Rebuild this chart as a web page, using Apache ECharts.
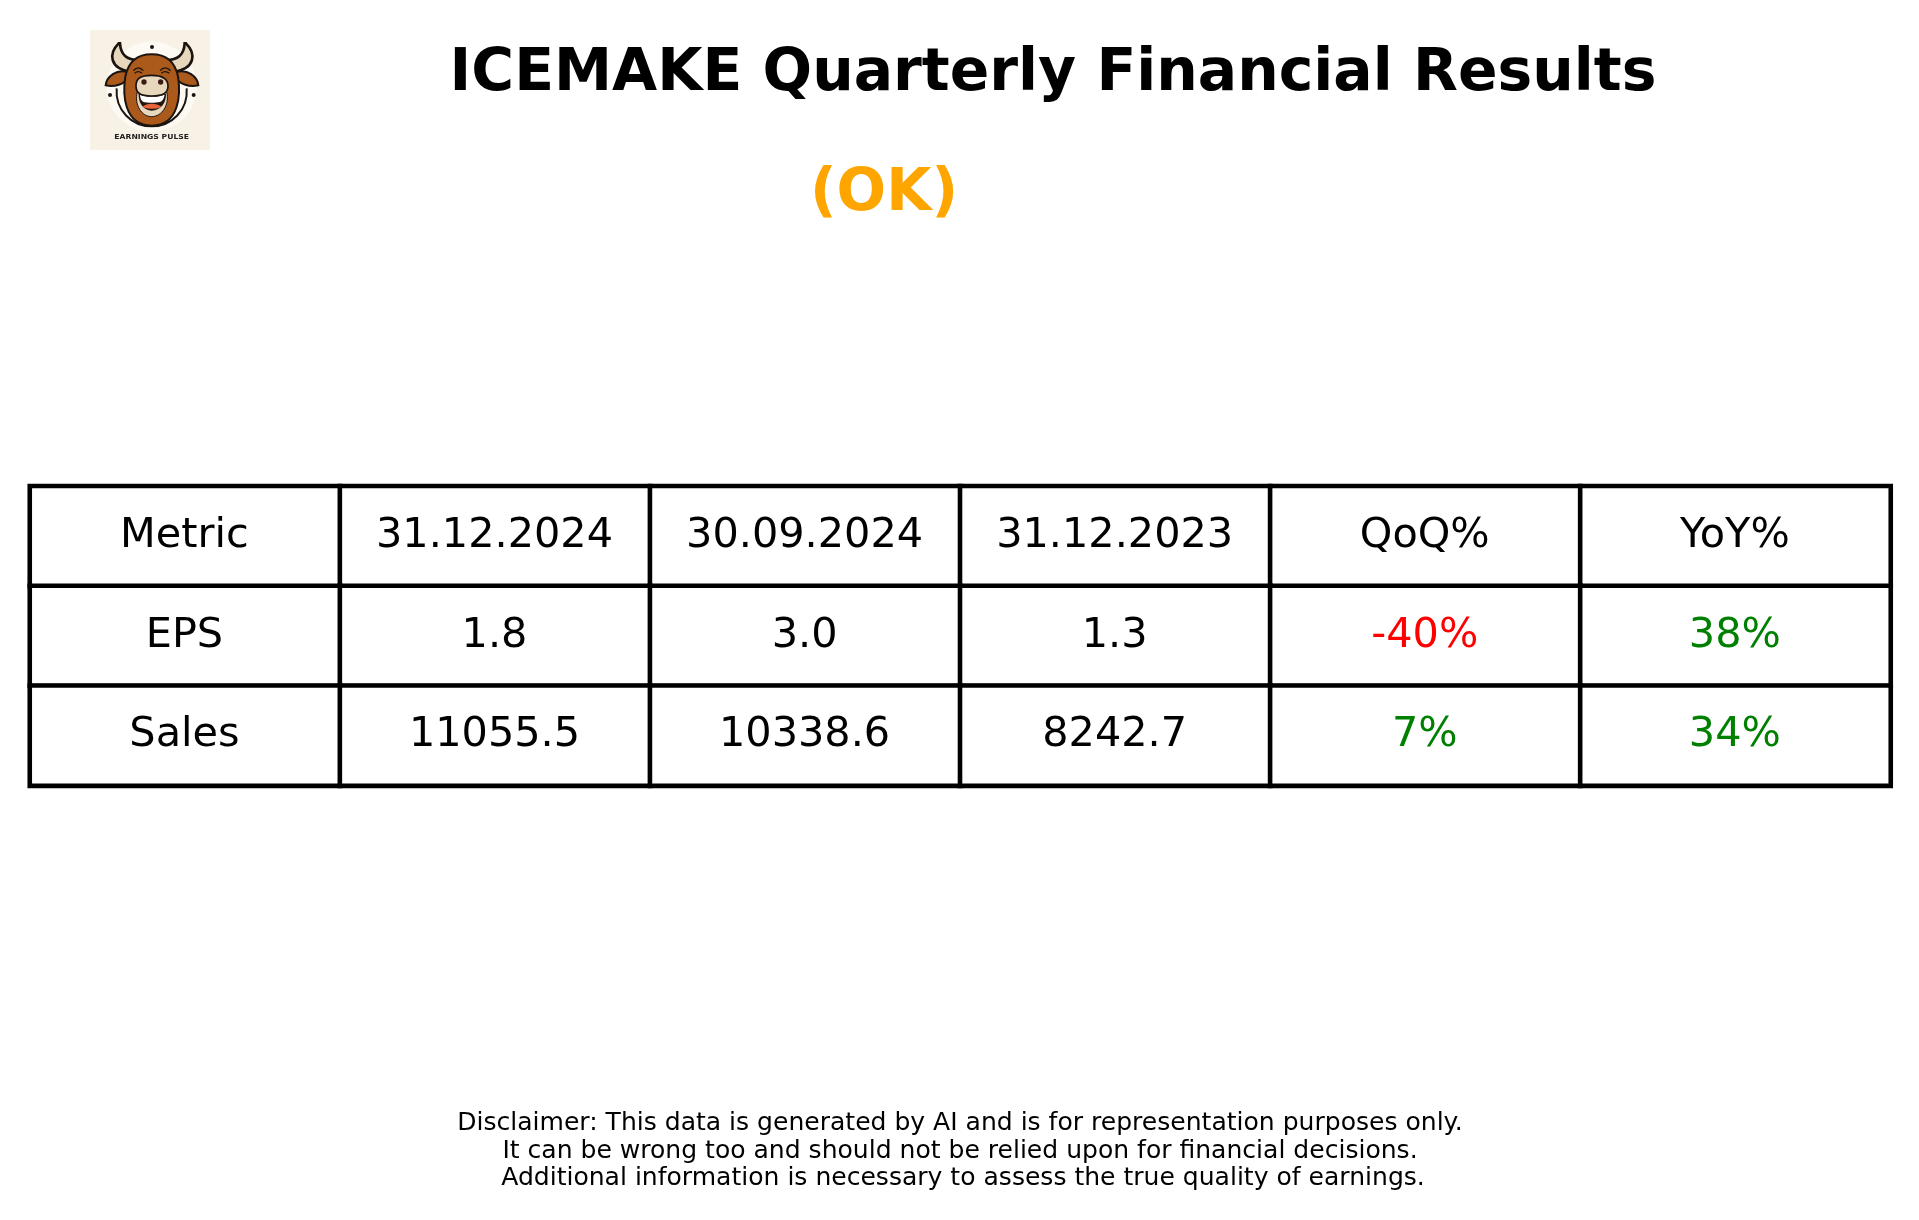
<!DOCTYPE html>
<html>
<head>
<meta charset="utf-8">
<title>ICEMAKE Quarterly Financial Results</title>
<script src="https://cdn.jsdelivr.net/npm/echarts@6/dist/echarts.min.js"></script>
<style>
  html, body { margin: 0; padding: 0; background: #fff; }
  #chart { width: 1919px; height: 1220px; }
</style>
</head>
<body>
<div id="chart"></div>
<script>
const columns = ['Metric', '31.12.2024', '30.09.2024', '31.12.2023', 'QoQ%', 'YoY%'];
const rowNames = ['Header', 'EPS', 'Sales'];
const epsRow = ['EPS', '1.8', '3.0', '1.3', '-40%', '38%'];
const salesRow = ['Sales', '11055.5', '10338.6', '8242.7', '7%', '34%'];
const tableRows = [columns, epsRow, salesRow];

const disclaimer = [
    'Disclaimer: This data is generated by AI and is for representation purposes only.',
    'It can be wrong too and should not be relied upon for financial decisions.',
    'Additional information is necessary to assess the true quality of earnings.'
];
const disclaimerX = [955, 955, 958];
const disclaimerY = [1118.5, 1146.5, 1173.5];

const fontName = '"DejaVu Sans"';

function cellColor(text, row, col) {
    if (row === 0 || col < 4) return '#000';
    return text.startsWith('-') ? '#ff0000' : '#008000';
}

// one heatmap cell per table cell, label carries the text
const cells = [];
tableRows.forEach((r, row) => {
    r.forEach((text, col) => {
        cells.push({
            value: [col, row, 1],
            label: { formatter: text, color: cellColor(text, row, col) }
        });
    });
});

// the graphic component has no plain path type, so register each logo shape
let shapeCount = 0;
function logoPath(d, style) {
    const name = 'logoShape' + shapeCount++;
    echarts.graphic.registerShape(name, echarts.graphic.extendPath(d));
    return { type: name, style: style };
}

const ink = '#1c1410';
const hide = '#ab5a1c';
const cream = '#e6d7bd';

// logo is drawn in the 3x zoom space, the group scales it back down
const logo = {
    type: 'group',
    x: 60,
    y: 10,
    scaleX: 1 / 3,
    scaleY: 1 / 3,
    silent: true,
    children: [
        { type: 'rect', shape: { x: 90, y: 60, width: 360, height: 360 }, style: { fill: '#f8f2e6' } },
        { type: 'circle', shape: { cx: 275, cy: 230, r: 135 }, style: { fill: '#fdfaf4' } },
        // horns
        logoPath('M176 100 C146 130 146 176 214 186 L236 150 C200 150 182 135 180 100 Z', { fill: cream, stroke: ink, lineWidth: 8 }),
        logoPath('M378 100 C408 130 408 176 340 186 L318 150 C354 150 372 135 374 100 Z', { fill: cream, stroke: ink, lineWidth: 8 }),
        // ears
        logoPath('M202 186 C170 176 140 200 137 226 C165 232 192 222 205 205 Z', { fill: hide, stroke: ink, lineWidth: 6 }),
        logoPath('M350 186 C382 176 412 200 415 226 C388 232 360 222 348 205 Z', { fill: hide, stroke: ink, lineWidth: 6 }),
        // ring under the head
        logoPath('M170 235 C165 300 215 349 275 349 C335 349 385 300 380 235', { fill: 'none', stroke: ink, lineWidth: 6 }),
        // head
        logoPath('M275 133 C232 133 205 155 196 200 C188 250 190 346 275 347 C360 346 362 250 354 200 C345 155 318 133 275 133 Z', { fill: hide, stroke: ink, lineWidth: 6 }),
        // eyes
        logoPath('M220 182 Q235 165 250 182 M300 182 Q315 165 332 182 M224 190 Q235 180 246 190 M304 190 Q315 180 328 190', { fill: 'none', stroke: ink, lineWidth: 4 }),
        // jaw, mouth, teeth, tongue
        logoPath('M232 245 C222 285 245 320 275 320 C305 320 330 285 320 245 Z', { fill: cream, stroke: ink, lineWidth: 3 }),
        logoPath('M236 250 C260 262 295 262 318 250 C320 280 300 302 275 302 C252 302 234 280 236 250 Z', { fill: '#231510' }),
        logoPath('M240 254 C265 262 290 262 314 254 C312 266 306 274 300 276 C285 279 262 279 250 276 C244 272 240 264 240 254 Z', { fill: '#fff' }),
        logoPath('M248 290 C260 278 290 278 304 290 C292 298 262 298 248 290 Z', { fill: '#e8663a' }),
        // snout
        logoPath('M228 228 C228 205 242 196 275 196 C308 196 324 205 324 228 C324 250 308 258 275 258 C242 258 228 250 228 228 Z', { fill: cream, stroke: ink, lineWidth: 5 }),
        { type: 'circle', shape: { cx: 252, cy: 216, r: 8 }, style: { fill: '#3a1c14' } },
        { type: 'circle', shape: { cx: 302, cy: 216, r: 8 }, style: { fill: '#3a1c14' } },
        // small stars
        { type: 'circle', shape: { cx: 276, cy: 111, r: 6 }, style: { fill: ink } },
        { type: 'circle', shape: { cx: 150, cy: 255, r: 6 }, style: { fill: ink } },
        { type: 'circle', shape: { cx: 401, cy: 255, r: 6 }, style: { fill: ink } },
        { type: 'text', x: 275, y: 380, style: { text: 'EARNINGS PULSE', fill: '#222', font: 'bold 23px "DejaVu Sans"', align: 'center', verticalAlign: 'middle' } }
    ]
};

const chart = echarts.init(document.getElementById('chart'), null, { renderer: 'canvas' });

chart.setOption({
    backgroundColor: '#fff',
    animation: false,
    title: [
        {
            text: 'ICEMAKE Quarterly Financial Results',
            left: 1048,
            top: 70,
            textAlign: 'center',
            textVerticalAlign: 'middle',
            textStyle: { fontFamily: fontName, fontWeight: 'bold', fontSize: 58.35, color: '#000' }
        },
        {
            text: '(OK)',
            left: 879,
            top: 190,
            textAlign: 'center',
            textVerticalAlign: 'middle',
            textStyle: { fontFamily: fontName, fontWeight: 'bold', fontSize: 58.35, color: '#ffa500' }
        }
    ].concat(disclaimer.map((line, i) => ({
        text: line,
        left: disclaimerX[i],
        top: disclaimerY[i],
        textAlign: 'center',
        textVerticalAlign: 'middle',
        textStyle: { fontFamily: fontName, fontWeight: 'normal', fontSize: 25.05, color: '#000' }
    }))),
    grid: { left: 30, top: 486.2, width: 1860.5, height: 299.4, containLabel: false },
    xAxis: { type: 'category', data: columns, show: false },
    yAxis: { type: 'category', data: rowNames, inverse: true, show: false },
    series: [{
        type: 'heatmap',
        silent: true,
        data: cells,
        itemStyle: { color: '#fff', borderColor: '#000', borderWidth: 4.6 },
        label: { show: true, fontFamily: fontName, fontSize: 41.4, position: 'inside', offset: [-0.6, 0] },
        emphasis: { disabled: true }
    }],
    graphic: [logo]
});
</script>
</body>
</html>
